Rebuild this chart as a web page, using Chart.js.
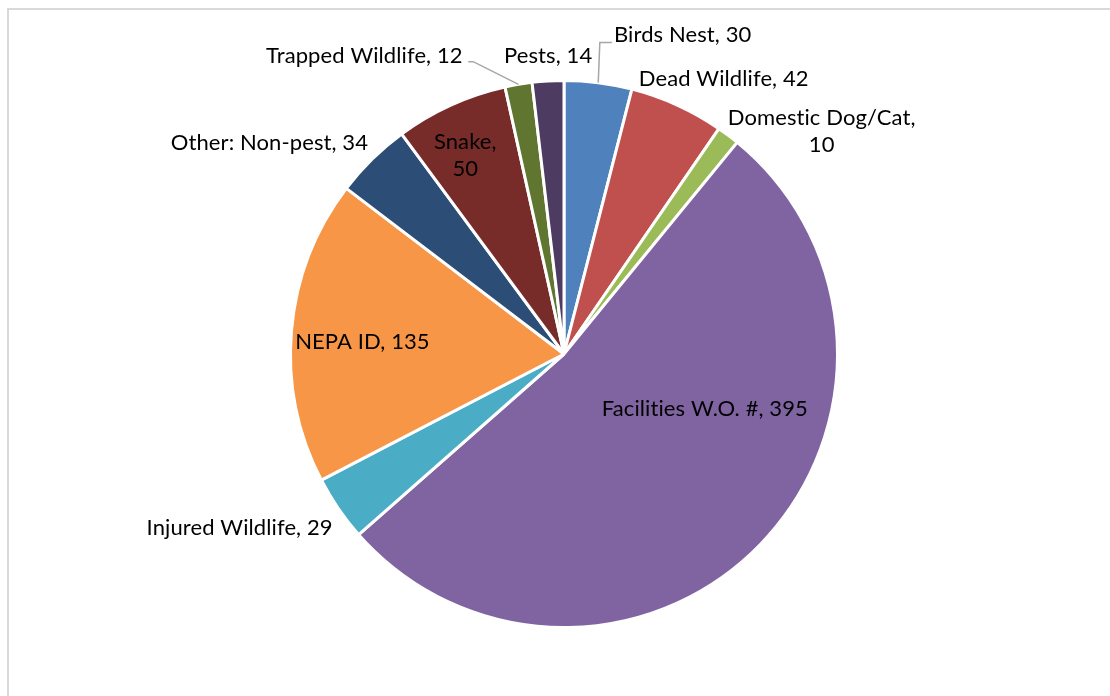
<!DOCTYPE html>
<html>
<head>
<meta charset="utf-8">
<script src="https://cdn.jsdelivr.net/npm/chart.js@4"></script>
<style>
  html, body { margin: 0; padding: 0; background: #fff; }
  canvas { display: block; }
</style>
</head>
<body>
<canvas id="pieChart" width="1110" height="696"></canvas>
<script>
// Request categories and counts, clockwise from 12 o'clock
const categories = ['Birds Nest', 'Dead Wildlife', 'Domestic Dog/Cat', 'Facilities W.O. #', 'Injured Wildlife',
                    'NEPA ID', 'Other: Non-pest', 'Snake', 'Trapped Wildlife', 'Pests'];
const counts = [30, 42, 10, 395, 29, 135, 34, 50, 12, 14];
const sliceColors = ['#4F81BD', '#C0504D', '#9BBB59', '#8064A2', '#4BACC6',
                     '#F79646', '#2C4D75', '#772C2A', '#5F7530', '#4D3B62'];

// label placement, in units of the pie radius, relative to the pie centre
const labelLayout = [
  { dx: 0.434, dy: -1.168, leader: [[0.131, -1.139], [0.175, -1.139]] },
  { dx: 0.584, dy: -1.004 },
  { dx: 0.942, dy: -0.814, split: true },
  { dx: 0.515, dy: 0.201 },
  { dx: -1.186, dy: 0.635 },
  { dx: -0.737, dy: -0.044 },
  { dx: -1.077, dy: -0.770 },
  { dx: -0.361, dy: -0.726, split: true },
  { dx: -0.730, dy: -1.091, leader: [[-0.332, -1.069], [-0.350, -1.069]] },
  { dx: -0.058, dy: -1.091 }
];

const FONT = '22px Lato';

const labelPlugin = {
  id: 'sliceLabels',
  beforeDraw(chart) {
    const ctx = chart.ctx;
    ctx.save();
    ctx.strokeStyle = '#D9D9D9';
    ctx.lineWidth = 2;
    ctx.strokeRect(8, 9, 1200, 800);
    ctx.restore();
  },
  afterDatasetsDraw(chart) {
    const ctx = chart.ctx;
    const meta = chart.getDatasetMeta(0);
    ctx.save();
    ctx.font = FONT;
    ctx.letterSpacing = '0.1px'; // keeps "ti" from turning into a ligature
    ctx.fillStyle = '#000';
    ctx.textAlign = 'center';
    ctx.textBaseline = 'middle';
    meta.data.forEach((arc, i) => {
      const p = arc.getProps(['x', 'y', 'outerRadius', 'startAngle', 'endAngle'], true);
      const R = p.outerRadius;
      const lay = labelLayout[i];
      if (lay.leader) {
        const mid = (p.startAngle + p.endAngle) / 2;
        ctx.beginPath();
        ctx.strokeStyle = '#A6A6A6';
        ctx.lineWidth = 1.5;
        ctx.moveTo(p.x + R * Math.cos(mid), p.y + R * Math.sin(mid));
        lay.leader.forEach(pt => ctx.lineTo(p.x + pt[0] * R, p.y + pt[1] * R));
        ctx.stroke();
      }
      const lx = p.x + lay.dx * R;
      const ly = p.y + lay.dy * R;
      const lines = lay.split
        ? [categories[i] + ',', String(counts[i])]
        : [categories[i] + ', ' + counts[i]];
      const lh = 27;
      lines.forEach((t, k) => {
        ctx.fillText(t, lx, ly + (k - (lines.length - 1) / 2) * lh);
      });
    });
    ctx.restore();
  }
};

new Chart(document.getElementById('pieChart'), {
  type: 'pie',
  data: {
    labels: categories,
    datasets: [{
      data: counts,
      backgroundColor: sliceColors,
      borderColor: '#FFFFFF',
      borderWidth: 3
    }]
  },
  options: {
    responsive: false,
    animation: false,
    layout: { padding: { top: 79, bottom: 67, left: 18, right: 0 } },
    plugins: {
      legend: { display: false },
      tooltip: { enabled: false }
    }
  },
  plugins: [labelPlugin]
});
</script>
</body>
</html>
